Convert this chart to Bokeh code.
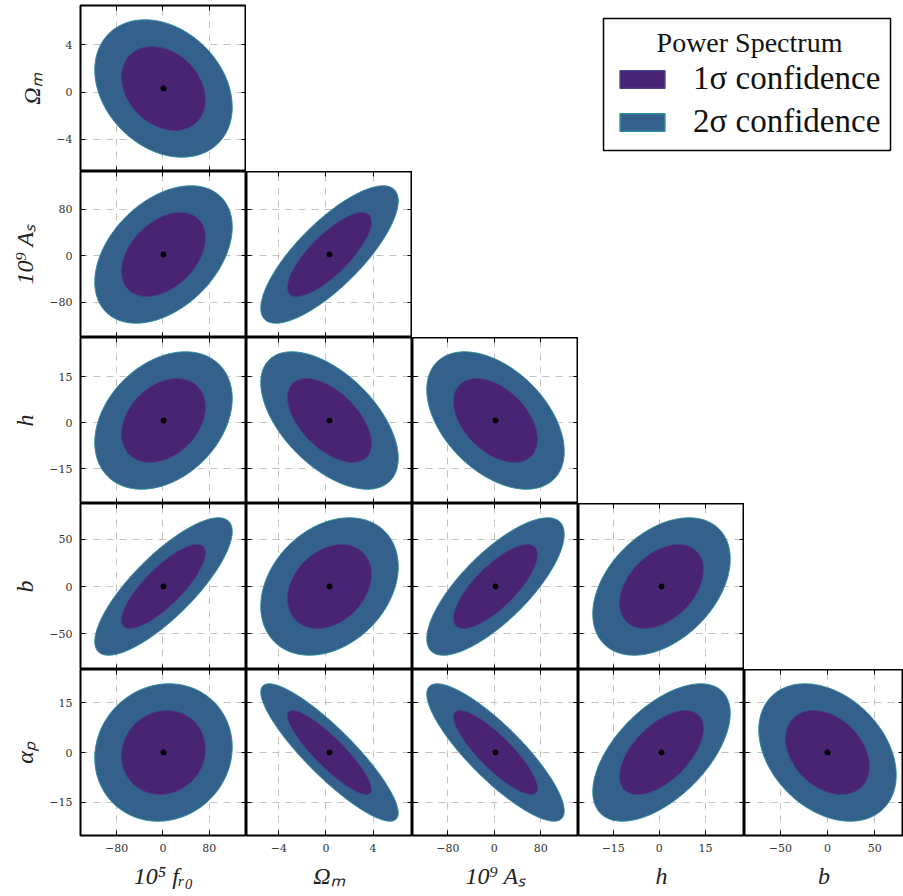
import numpy as np
from bokeh.plotting import figure
from bokeh.models import (Range1d, LinearAxis, FixedTicker, Grid, GridBox, Label,
                          BoxAnnotation, Legend, LegendItem, ColumnDataSource,
                          CustomLabelingPolicy)
from bokeh.embed import file_html
from bokeh.resources import INLINE

# ---------------- data ----------------
param_labels = ["10⁵ fᵣ₀", "Ωₘ", "10⁹ Aₛ", "h", "b", "αₚ"]
fiducials = [1.0, 0.3, 2.1, 0.7, 0.0, 0.0]
sigmas = [47.8, 2.35, 47.6, 9.0, 29.3, 8.36]
param_ticks = [[-80, 0, 80], [-4, 0, 4], [-80, 0, 80],
               [-15, 0, 15], [-50, 0, 50], [-15, 0, 15]]
# correlation coefficient of (row parameter, column parameter)
corr_rows = [1, 2, 2, 3, 3, 3, 4, 4, 4, 4, 5, 5, 5, 5, 5]
corr_cols = [0, 0, 1, 0, 1, 2, 0, 1, 2, 3, 0, 1, 2, 3, 4]
corr_vals = [-0.27, 0.40, 0.78, 0.32, -0.55, -0.45, 0.80, 0.29, 0.76, 0.40,
             0.08, -0.88, -0.85, 0.57, -0.33]
confidence_labels = ["1σ confidence", "2σ confidence"]
delta_chi2 = [2.30, 6.17]          # 2-parameter 68.3% and 95.4% levels
legend_title = "Power Spectrum"

# ---------------- styles ----------------
fill_colors = ["#482473", "#33618c"]
edge_colors = ["#4a3d8c", "#2f8c9b"]
FRAME_W = [166, 166, 166, 166, 159]
FRAME_H = 166
LEFT_BORDER = 80
TOP_BORDER = 5
BOTTOM_BORDER = 56
TICK_FONT = "DejaVu Serif"
LABEL_FONT = "Liberation Serif"
GRID_COLOR = "#c2c2c2"
GRID_DASH = "7 6"

corr = {(r, c): v for r, c, v in zip(corr_rows, corr_cols, corr_vals)}
t = np.linspace(0.0, 2.0 * np.pi, 300)


def contour(ix, iy, rho, dchi2):
    k = np.sqrt(dchi2)
    x = fiducials[ix] + k * sigmas[ix] * np.cos(t)
    y = fiducials[iy] + k * sigmas[iy] * (rho * np.cos(t) + np.sqrt(1 - rho ** 2) * np.sin(t))
    return x, y


def minus(v):
    return str(v).replace("-", "\u2212")


NO_LABELS = "for (const i of indices) { indices.unset(i) }\nreturn indices"


def tick_axis(ticks, loc):
    return LinearAxis(ticker=FixedTicker(ticks=ticks), fixed_location=loc,
                      major_tick_in=5, major_tick_out=0, minor_tick_in=0, minor_tick_out=0,
                      axis_line_color=None, major_tick_line_color="black",
                      major_tick_line_width=1,
                      major_label_policy=CustomLabelingPolicy(code=NO_LABELS),
                      major_label_standoff=0)


def label_axis(ticks, label):
    return LinearAxis(ticker=FixedTicker(ticks=ticks),
                      major_label_overrides={v: minus(v) for v in ticks},
                      major_tick_in=5, major_tick_out=0, minor_tick_in=0, minor_tick_out=0,
                      axis_line_color=None, major_tick_line_color="black",
                      major_label_standoff=8, major_label_text_font=TICK_FONT,
                      major_label_text_font_size="11px", major_label_text_color="#333333",
                      axis_label=label, axis_label_text_font=LABEL_FONT,
                      axis_label_text_font_style="italic", axis_label_text_font_size="24px",
                      axis_label_text_color="#222222", axis_label_standoff=8)


def clear_default_grids(fig):
    fig.center = [m for m in fig.center if not isinstance(m, Grid)]


children = []
nrows = 5
for r in range(nrows):
    iy = r + 1
    for c in range(r + 1):
        ix = c
        x0 = fiducials[ix] - 3 * sigmas[ix]
        x1 = x0 + 6 * sigmas[ix] * FRAME_W[c] / 166.0
        y0 = fiducials[iy] - 3 * sigmas[iy]
        y1 = fiducials[iy] + 3 * sigmas[iy]
        p = figure(frame_width=FRAME_W[c], frame_height=FRAME_H,
                   x_range=Range1d(x0, x1), y_range=Range1d(y0, y1),
                   x_axis_location=None, y_axis_location=None,
                   toolbar_location=None, tools="", output_backend="svg",
                   min_border_left=LEFT_BORDER if c == 0 else 0,
                   min_border_bottom=BOTTOM_BORDER if r == nrows - 1 else 0,
                   min_border_top=TOP_BORDER if r == 0 else 0, min_border_right=0,
                   background_fill_color="white", border_fill_color="white",
                   outline_line_color="black", outline_line_width=2)
        clear_default_grids(p)
        p.add_layout(Grid(dimension=0, ticker=FixedTicker(ticks=param_ticks[ix]),
                          grid_line_color=GRID_COLOR, grid_line_dash=GRID_DASH))
        p.add_layout(Grid(dimension=1, ticker=FixedTicker(ticks=param_ticks[iy]),
                          grid_line_color=GRID_COLOR, grid_line_dash=GRID_DASH))
        # ticks on all four sides, pointing inwards
        if c == 0:
            p.add_layout(label_axis(param_ticks[iy], param_labels[iy]), "left")
        else:
            p.add_layout(tick_axis(param_ticks[iy], x0), "left")
        p.add_layout(tick_axis(param_ticks[iy], x1), "right")
        if r == nrows - 1:
            p.add_layout(label_axis(param_ticks[ix], param_labels[ix]), "below")
        else:
            p.add_layout(tick_axis(param_ticks[ix], y0), "below")
        p.add_layout(tick_axis(param_ticks[ix], y1), "above")

        rho = corr[(iy, ix)]
        for lvl in (1, 0):
            ex, ey = contour(ix, iy, rho, delta_chi2[lvl])
            p.patch(ex, ey, fill_color=fill_colors[lvl], line_color=edge_colors[lvl],
                    line_width=1)
        p.scatter([fiducials[ix]], [fiducials[iy]], size=5, color="black")
        children.append((p, r, c))

# ---------------- legend panel (row 0, columns 1-4) ----------------
leg_w = FRAME_W[1] + FRAME_W[2] + FRAME_W[3] + FRAME_W[4]
lp = figure(frame_width=leg_w, frame_height=FRAME_H,
            x_range=Range1d(0, 1), y_range=Range1d(0, 1),
            x_axis_location=None, y_axis_location=None,
            toolbar_location=None, tools="", output_backend="svg",
            min_border=0, min_border_top=TOP_BORDER, outline_line_color=None,
            background_fill_color="white", border_fill_color="white")
clear_default_grids(lp)
# legend frame and title (screen units, measured from the panel's bottom-left)
lp.add_layout(BoxAnnotation(left=357, right=644, bottom=21, top=153,
                            left_units="screen", right_units="screen",
                            bottom_units="screen", top_units="screen",
                            fill_color="white", fill_alpha=1.0,
                            line_color="black", line_width=1.5, line_alpha=1.0))
lp.add_layout(Label(x=503, y=129, x_units="screen", y_units="screen",
                    text=legend_title, text_align="center", text_baseline="middle",
                    text_font=LABEL_FONT, text_font_size="28px", text_color="#111111"))
items = []
for i, lab in enumerate(confidence_labels):
    # zero-area proxy boxes, outside the (empty) legend panel's view
    lvl = [delta_chi2[i]]
    src = ColumnDataSource(dict(left=lvl, right=lvl, top=lvl, bottom=lvl))
    rr = lp.quad(left="left", right="right", top="top", bottom="bottom", source=src,
                 fill_color=fill_colors[i], line_color=edge_colors[i], line_width=1.5)
    items.append(LegendItem(label=lab, renderers=[rr]))
legend = Legend(items=items, location=(368, 31),
                label_text_font=LABEL_FONT, label_text_font_size="33px",
                label_text_color="#111111", label_height=36,
                glyph_width=56, glyph_height=22, label_standoff=23, spacing=6,
                padding=0, margin=0,
                border_line_color=None, background_fill_alpha=0.0)
lp.add_layout(legend)
children.append((lp, 0, 1, 1, 4))

grid = GridBox(children=children, spacing=0)

with open("out.html", "w") as f:
    f.write(file_html(grid, INLINE))
